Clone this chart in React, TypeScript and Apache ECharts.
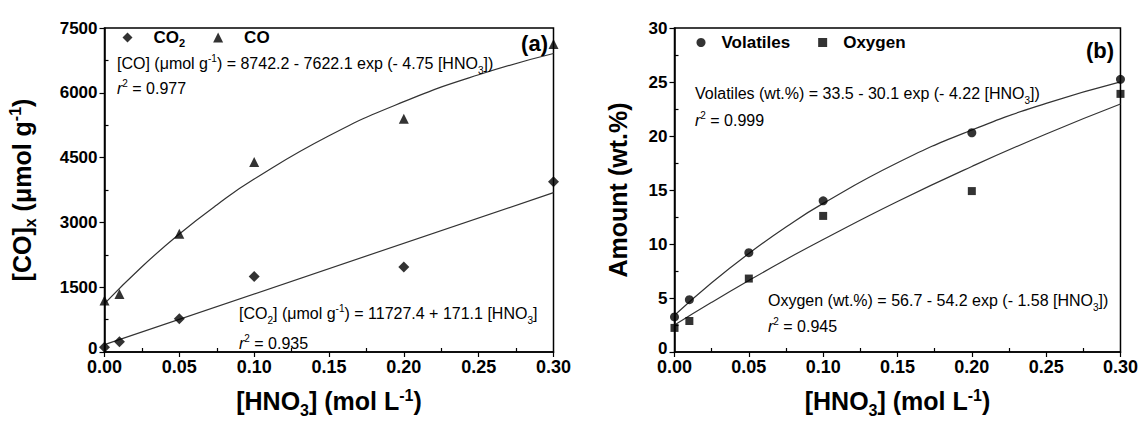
import React, { useEffect, useRef } from 'react';
import * as echarts from 'echarts';

const FONT = "'Liberation Sans', Arial, Helvetica, sans-serif";

// [HNO3] concentrations (mol L-1)
const hno3 = [0, 0.01, 0.05, 0.1, 0.2, 0.3];
// panel (a)
const co2Values = [110, 235, 770, 1750, 1970, 3940];
const coValues = [1190, 1340, 2740, 4400, 5400, 7130];
// panel (b)
const volatilesValues = [3.25, 4.84, 9.2, 14.0, 20.3, 25.25];
const oxygenValues = [2.23, 2.87, 6.8, 12.6, 14.9, 23.9];

// fitted curves
const fitX = [0, 0.025, 0.05, 0.075, 0.1, 0.15, 0.2, 0.25, 0.3];
const coFit = [1120, 1974, 2732, 3404, 4002, 5004, 5795, 6418, 6909];
const co2FitX = [0, 0.3];
const co2Fit = [171, 3689];
const volatilesFit = [3.4, 6.41, 9.12, 11.57, 13.76, 17.52, 20.56, 23.02, 25.01];
const oxygenFit = [2.5, 4.6, 6.62, 8.56, 10.42, 13.94, 17.18, 20.19, 22.96];

const xTicks = { min: 0, max: 0.3, interval: 0.05 };
const yTicksA = { min: 0, max: 7500, interval: 1500 };
const yTicksB = { min: 0, max: 30, interval: 5 };

function richSet(F: number, weight: string, H: number, padLeft = 0) {
  const S = Math.round(F * 0.62);
  const base = { fontSize: F, fontWeight: weight, fontFamily: FONT, color: '#000', lineHeight: H, verticalAlign: 'middle' };
  return {
    t: { ...base },
    n: { ...base, padding: [0, 0, 0, padLeft] },
    i: { ...base, fontStyle: 'italic' },
    sub: { fontSize: S, fontWeight: weight, fontFamily: FONT, color: '#000', lineHeight: S, verticalAlign: 'bottom' },
    sup: { fontSize: S, fontWeight: weight, fontFamily: FONT, color: '#000', lineHeight: S, verticalAlign: 'top', padding: [Math.round(F * 0.12), 0, 0, 0] },
  };
}

const eqRich = richSet(16, 'normal', 24);

function label(x: number, y: number, text: string, rich: any, align = 'left') {
  return {
    type: 'text',
    x,
    y,
    style: { text, rich, align, verticalAlign: 'middle', fill: '#000' },
    z: 10,
  };
}

function xAxis(gridIndex: number) {
  return {
    type: 'value',
    gridIndex,
    ...xTicks,
    axisLine: { onZero: false, lineStyle: { color: '#000', width: 1.5 } },
    axisTick: { show: true, length: 5, lineStyle: { color: '#000', width: 1.2 } },
    minorTick: { show: true, splitNumber: 2, length: -4, lineStyle: { color: '#000', width: 1.2 } },
    splitLine: { show: false },
    minorSplitLine: { show: false },
    axisLabel: {
      color: '#000', fontWeight: 'bold', fontSize: 18, fontFamily: FONT, margin: 7, lineHeight: 16,
      showMaxLabel: true, showMinLabel: true,
      formatter: (v: number) => v.toFixed(2),
    },
    name: '{t|[HNO}{sub|3}{t|] (mol L}{sup|-1}{t|)}',
    nameLocation: 'middle',
    nameGap: 32,
    nameTextStyle: { rich: richSet(25, 'bold', 34) },
  };
}

function yAxis(gridIndex: number, ticks: any, name: string, nameGap: number) {
  const lab = { color: '#000', fontWeight: 'bold', fontSize: 17, fontFamily: FONT, lineHeight: 12 };
  return {
    type: 'value',
    gridIndex,
    ...ticks,
    axisLine: { onZero: false, lineStyle: { color: '#000', width: 1.5 } },
    axisTick: { show: true, length: 5, lineStyle: { color: '#000', width: 1.2 } },
    minorTick: { show: true, splitNumber: 2, length: -4, lineStyle: { color: '#000', width: 1.2 } },
    splitLine: { show: false },
    minorSplitLine: { show: false },
    axisLabel: {
      ...lab, margin: 7,
      formatter: (v: number) => (v === 0 ? '{z|0}' : '{v|' + String(v) + '}'),
      rich: { v: { ...lab }, z: { ...lab, padding: [0, 0, 8, 0] } },
    },
    name,
    nameLocation: 'middle',
    nameRotate: 90,
    nameGap,
    nameTextStyle: { rich: richSet(25, 'bold', 34) },
  };
}

function pts(xs: number[], ys: number[]) {
  return xs.map((x, i) => [x, ys[i]]);
}

const fitStyle = { color: '#333', width: 1.2 };

export default function App() {
  const ref = useRef<HTMLDivElement>(null);
  useEffect(() => {
    if (!ref.current) return;
    const chart = echarts.init(ref.current, undefined, { renderer: 'svg' });
    const legendRichA = richSet(17, 'bold', 22, 16);
    const legendRichB = richSet(17, 'bold', 22, 11);
    chart.setOption({
      animation: false,
      backgroundColor: '#fff',
      grid: [
        { left: 104.5, top: 28, width: 449, height: 329, show: true, borderColor: '#000', borderWidth: 1.5, backgroundColor: 'transparent' },
        { left: 674.5, top: 28, width: 447, height: 329, show: true, borderColor: '#000', borderWidth: 1.5, backgroundColor: 'transparent' },
      ],
      xAxis: [xAxis(0), xAxis(1)],
      yAxis: [
        yAxis(0, yTicksA, '{t|[CO]}{sub|x}{t| (μmol g}{sup|-1}{t|)}', 66),
        yAxis(1, yTicksB, '{t|Amount (wt.%)}', 40),
      ],
      legend: [
        {
          data: ['CO2', 'CO'], left: 122.5, top: 29, padding: 0, itemWidth: 10, itemHeight: 10, itemGap: 28,
          formatter: (n: string) => (n === 'CO2' ? '{n|CO}{sub|2}' : '{n|' + n + '}'),
          textStyle: { rich: legendRichA },
          selectedMode: false,
        },
        {
          data: ['Volatiles', 'Oxygen'], left: 696.5, top: 34, padding: 0, itemWidth: 9, itemHeight: 9, itemGap: 28,
          formatter: (n: string) => '{n|' + n + '}',
          textStyle: { rich: legendRichB },
          selectedMode: false,
        },
      ],
      series: [
        { name: 'CO2 fit', type: 'line', xAxisIndex: 0, yAxisIndex: 0, data: pts(co2FitX, co2Fit), showSymbol: false, lineStyle: fitStyle, silent: true },
        { name: 'CO fit', type: 'line', xAxisIndex: 0, yAxisIndex: 0, data: pts(fitX, coFit), smooth: true, showSymbol: false, lineStyle: fitStyle, silent: true },
        { name: 'CO2', type: 'scatter', xAxisIndex: 0, yAxisIndex: 0, data: pts(hno3, co2Values), symbol: 'diamond', symbolSize: 11, itemStyle: { color: '#000' }, z: 5 },
        { name: 'CO', type: 'scatter', xAxisIndex: 0, yAxisIndex: 0, data: pts(hno3, coValues), symbol: 'triangle', symbolSize: 10, itemStyle: { color: '#000' }, z: 5 },
        { name: 'Volatiles fit', type: 'line', xAxisIndex: 1, yAxisIndex: 1, data: pts(fitX, volatilesFit), smooth: true, showSymbol: false, lineStyle: fitStyle, silent: true },
        { name: 'Oxygen fit', type: 'line', xAxisIndex: 1, yAxisIndex: 1, data: pts(fitX, oxygenFit), smooth: true, showSymbol: false, lineStyle: fitStyle, silent: true },
        { name: 'Volatiles', type: 'scatter', xAxisIndex: 1, yAxisIndex: 1, data: pts(hno3, volatilesValues), symbol: 'circle', symbolSize: 9, itemStyle: { color: '#000' }, z: 5 },
        { name: 'Oxygen', type: 'scatter', xAxisIndex: 1, yAxisIndex: 1, data: pts(hno3, oxygenValues), symbol: 'rect', symbolSize: 8, itemStyle: { color: '#000' }, z: 5 },
      ],
      graphic: [
        label(117, 63, '{t|[CO] (μmol g}{sup|-1}{t|) = 8742.2 - 7622.1 exp (- 4.75 [HNO}{sub|3}{t|])}', eqRich),
        label(117, 88, '{i|r}{sup|2}{t| = 0.977}', eqRich),
        label(239, 313, '{t|[CO}{sub|2}{t|] (μmol g}{sup|-1}{t|) = 11727.4 + 171.1 [HNO}{sub|3}{t|]}', eqRich),
        label(239, 343, '{i|r}{sup|2}{t| = 0.935}', eqRich),
        label(695, 93, '{t|Volatiles (wt.%) = 33.5 - 30.1 exp (- 4.22 [HNO}{sub|3}{t|])}', eqRich),
        label(695, 120, '{i|r}{sup|2}{t| = 0.999}', eqRich),
        label(768, 300, '{t|Oxygen (wt.%) = 56.7 - 54.2 exp (- 1.58 [HNO}{sub|3}{t|])}', eqRich),
        label(768, 326, '{i|r}{sup|2}{t| = 0.945}', eqRich),
        label(548, 43, '{t|(a)}', richSet(22, 'bold', 26), 'right'),
        label(1114, 50, '{t|(b)}', richSet(22, 'bold', 26), 'right'),
      ],
    });
    return () => chart.dispose();
  }, []);
  return (
    <div
      ref={ref}
      style={{ position: 'fixed', left: 0, top: 0, width: 1141, height: 423, background: '#fff' }}
    />
  );
}
